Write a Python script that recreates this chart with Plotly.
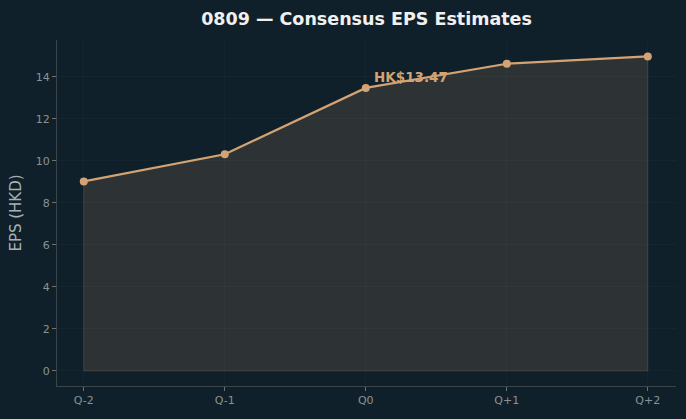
import plotly.graph_objects as go

categories = ["Q-2", "Q-1", "Q0", "Q+1", "Q+2"]
eps_values = [9.02, 10.31, 13.47, 14.62, 14.97]
y_ticks = [0, 2, 4, 6, 8, 10, 12, 14]
annot_label = "HK$13.47"
annot_index = 2

xs = list(range(len(categories)))

fig = go.Figure()
# filled polygon down to zero
fig.add_trace(go.Scatter(
    x=xs + xs[::-1] + [xs[0]],
    y=eps_values + [0] * len(xs) + [eps_values[0]],
    mode="lines",
    fill="toself",
    fillcolor="rgba(212,163,115,0.15)",
    line=dict(color="rgba(120,110,90,0.35)", width=1),
    hoverinfo="skip",
    showlegend=False,
))
fig.add_trace(go.Scatter(
    x=xs, y=eps_values,
    mode="lines+markers",
    line=dict(color="#d4a373", width=2.2),
    marker=dict(color="#d4a373", size=8),
    showlegend=False,
))
fig.add_annotation(
    x=xs[annot_index], y=eps_values[annot_index],
    text="<b>" + annot_label + "</b>",
    showarrow=False, xanchor="left", yanchor="middle",
    xshift=6, yshift=11,
    font=dict(family="DejaVu Sans", size=13.5, color="#d4a373"),
)

fig.update_layout(
    width=686, height=419,
    paper_bgcolor="#10202a", plot_bgcolor="#10202a",
    margin=dict(l=57, r=10, t=40, b=33),
    title=dict(text="<b>0809 — Consensus EPS Estimates</b>", x=0.5, xref="paper", xanchor="center",
               y=0.955, yanchor="middle",
               font=dict(family="DejaVu Sans", size=17.5, color="#f0f0f0")),
    font=dict(family="DejaVu Sans", color="#8a9296"),
)
fig.update_xaxes(
    range=[-0.19, 4.2], tickvals=xs, ticktext=categories,
    showgrid=True, gridcolor="rgba(255,255,255,0.025)", zeroline=False,
    showline=True, linecolor="#3b4549", linewidth=1,
    ticks="outside", ticklen=4, tickcolor="#6a7478",
    tickfont=dict(size=11, color="#8a9296"),
)
fig.update_yaxes(
    range=[-0.72, 15.75], tickvals=y_ticks,
    showgrid=True, gridcolor="rgba(255,255,255,0.025)", zeroline=False,
    showline=True, linecolor="#3b4549", linewidth=1,
    ticks="outside", ticklen=4, tickcolor="#6a7478",
    tickfont=dict(size=11, color="#8a9296"),
    title=dict(text="EPS (HKD)", font=dict(size=15, color="#a8b0b4"), standoff=10),
)

fig.write_html("out.html")
